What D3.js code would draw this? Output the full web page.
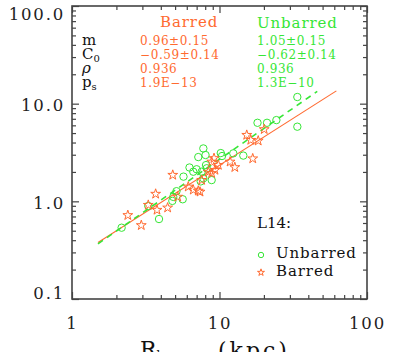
<!DOCTYPE html>
<html>
<head>
<meta charset="utf-8">
<script src="https://cdn.jsdelivr.net/npm/d3@7"></script>
<style>
  body { margin: 0; background: #fff; }
  text { font-family: "DejaVu Serif", serif; }
</style>
</head>
<body>
<script>
// values
var unbarredX = [2.17, 3.29, 3.89, 4.79, 4.86, 5.63, 5.11, 5.70, 6.26, 7.0, 6.64, 7.57, 7.18, 7.77, 8.04,
                 8.10, 7.77, 8.85, 10.2, 10.4, 12.4, 14.5, 18.1, 21.0, 24.3, 33.7, 33.7, 7.46, 8.19];
var unbarredY = [0.537, 0.896, 0.659, 1.01, 1.11, 1.05, 1.27, 1.79, 2.22, 2.13, 2.01, 2.01, 2.84, 3.48, 2.98,
                 2.35, 1.72, 1.65, 3.12, 2.91, 3.10, 2.94, 6.37, 6.37, 6.79, 11.7, 5.81, 1.60, 2.18];

var barredX = [2.39, 2.95, 3.29, 3.69, 3.77, 4.45, 4.82, 5.21, 6.14, 6.64, 7.18, 7.38, 7.57, 8.40,
               8.85, 9.32, 9.18, 9.82, 11.8, 12.7, 15.3, 16.3, 18.3, 20.1, 16.8, 8.85];
var barredY = [0.72, 0.568, 0.916, 1.19, 0.815, 0.86, 1.86, 1.11, 1.41, 1.31, 1.28, 1.25, 1.65, 2.0,
               2.54, 2.09, 2.76, 2.35, 2.54, 2.23, 4.77, 4.24, 4.17, 5.46, 2.74, 1.94];

// fits: log y = c0 + m log x
var barredFit = {m: 0.96, c0: -0.59, from: 1.5, to: 62};
var unbarredFit = {m: 1.05, c0: -0.62, from: 1.5, to: 46};

var statNames = ["m", "C", "ρ", "p"];
var statSubs = ["", "0", "", "s"];
var barredStats = ["0.96±0.15", "−0.59±0.14", "0.936", "1.9E−13"];
var unbarredStats = ["1.05±0.15", "−0.62±0.14", "0.936", "1.3E−10"];

var xMajor = [1, 10, 100];
var xMinor = [2, 3, 4, 5, 6, 7, 8, 9, 20, 30, 40, 50, 60, 70, 80, 90];
var yMajor = [0.1, 1, 10, 100];
var yMinor = [0.2, 0.3, 0.4, 0.5, 0.6, 0.7, 0.8, 0.9, 2, 3, 4, 5, 6, 7, 8, 9, 20, 30, 40, 50, 60, 70, 80, 90];
var yLabels = ["0.1", "1.0", "10.0", "100.0"];

var orange = "#ff6a30", green = "#36e636", axisCol = "#444";

var width = 399, height = 352;
var L = 72, R = 367, T = 6, B = 299;

var svg = d3.select("body").append("svg")
    .attr("width", width)
    .attr("height", height);

var x = d3.scaleLog().domain([1, 100]).range([L, R]);
var y = d3.scaleLog().domain([0.1, 100]).range([B, T]);

function tickAxis(fn, scale, vals, size, tr) {
  var g = svg.append("g").attr("transform", tr)
    .call(fn(scale).tickValues(vals).tickSize(size).tickFormat(""));
  g.select(".domain").remove();
  g.selectAll("line").attr("stroke", axisCol).attr("stroke-width", 1.2);
  return g;
}

// ticks pointing inward on all four sides
tickAxis(d3.axisBottom, x, xMinor, -4, "translate(0," + B + ")");
tickAxis(d3.axisTop, x, xMinor, -4, "translate(0," + T + ")");
tickAxis(d3.axisTop, x, xMajor, -7, "translate(0," + T + ")");
tickAxis(d3.axisLeft, y, yMinor, -4, "translate(" + L + ",0)");
tickAxis(d3.axisRight, y, yMinor, -4, "translate(" + R + ",0)");
tickAxis(d3.axisRight, y, yMajor, -7, "translate(" + R + ",0)");

var xa = svg.append("g").attr("transform", "translate(0," + B + ")")
  .call(d3.axisBottom(x).tickValues(xMajor).tickSize(-7).tickPadding(18).tickFormat(d3.format("d")));
xa.select(".domain").remove();
xa.selectAll("line").attr("stroke", axisCol).attr("stroke-width", 1.2);
xa.selectAll("text").attr("font-family", "DejaVu Serif").attr("font-size", 16.5)
  .attr("letter-spacing", 1.8).attr("fill", "#222");

var ya = svg.append("g").attr("transform", "translate(" + L + ",0)")
  .call(d3.axisLeft(y).tickValues(yMajor).tickSize(-7).tickPadding(7).tickFormat(function(d, i) { return yLabels[i]; }));
ya.select(".domain").remove();
ya.selectAll("line").attr("stroke", axisCol).attr("stroke-width", 1.2);
ya.selectAll("text").attr("font-family", "DejaVu Serif").attr("font-size", 16.5)
  .attr("letter-spacing", 1.8).attr("fill", "#222")
  .attr("y", function(d) { var c = Math.max(14, Math.min(293, y(d) + 2)); return c - y(d); });

svg.append("rect")
  .attr("x", L).attr("y", T).attr("width", R - L).attr("height", B - T)
  .attr("fill", "none").attr("stroke", axisCol).attr("stroke-width", 1.6);

// fit lines
function fitLine(f) {
  var pts = [f.from, f.to].map(function(v) { return [v, Math.pow(10, f.c0 + f.m * Math.log10(v))]; });
  return d3.line().x(function(d) { return x(d[0]); }).y(function(d) { return y(d[1]); })(pts);
}
svg.append("path").attr("d", fitLine(barredFit))
  .attr("fill", "none").attr("stroke", orange).attr("stroke-width", 1.1);
svg.append("path").attr("d", fitLine(unbarredFit))
  .attr("fill", "none").attr("stroke", green).attr("stroke-width", 1.6)
  .attr("stroke-dasharray", "6,5");

// points
var star = d3.symbol().type(d3.symbolStar);

svg.append("g").selectAll("circle").data(d3.range(unbarredX.length))
  .enter().append("circle")
  .attr("cx", function(i) { return x(unbarredX[i]); })
  .attr("cy", function(i) { return y(unbarredY[i]); })
  .attr("r", 3.7)
  .attr("fill", "none").attr("stroke", green).attr("stroke-width", 1);

svg.append("g").selectAll("path").data(d3.range(barredX.length))
  .enter().append("path")
  .attr("d", star.size(30)())
  .attr("transform", function(i) { return "translate(" + x(barredX[i]) + "," + y(barredY[i]) + ")"; })
  .attr("fill", "none").attr("stroke", orange).attr("stroke-width", 1);

// stats table
var rows = [45, 59, 73, 87];
statNames.forEach(function(n, i) {
  var t = svg.append("text").attr("x", 82).attr("y", rows[i]).attr("font-size", 15)
    .attr("fill", "#111").text(n);
  if (i == 2) t.attr("font-style", "italic");
  if (statSubs[i]) t.append("tspan").attr("font-size", 10).attr("dy", 3).text(statSubs[i]);
});
svg.append("text").attr("x", 160).attr("y", 27).attr("font-size", 15).attr("letter-spacing", 0.9)
  .attr("fill", orange).text("Barred");
svg.append("text").attr("x", 257).attr("y", 28).attr("font-size", 15).attr("letter-spacing", 0.9)
  .attr("fill", green).text("Unbarred");
barredStats.forEach(function(s, i) {
  svg.append("text").attr("x", 140).attr("y", rows[i]).attr("font-size", 12).attr("letter-spacing", 0.6)
    .attr("fill", orange).text(s);
});
unbarredStats.forEach(function(s, i) {
  svg.append("text").attr("x", 257).attr("y", rows[i]).attr("font-size", 12).attr("letter-spacing", 0.6)
    .attr("fill", green).text(s);
});

// legend
svg.append("text").attr("x", 257).attr("y", 228).attr("font-size", 15).attr("fill", "#111").text("L14:");
svg.append("circle").attr("cx", 261).attr("cy", 255).attr("r", 2.7)
  .attr("fill", "none").attr("stroke", green).attr("stroke-width", 1);
svg.append("text").attr("x", 276).attr("y", 258).attr("font-size", 15).attr("letter-spacing", 0.9)
  .attr("fill", "#111").text("Unbarred");
svg.append("path").attr("d", star.size(15)()).attr("transform", "translate(261,272.5)")
  .attr("fill", "none").attr("stroke", orange).attr("stroke-width", 1);
svg.append("text").attr("x", 276).attr("y", 276).attr("font-size", 15).attr("letter-spacing", 0.9)
  .attr("fill", "#111").text("Barred");

// x title (cut off at the bottom as in the figure)
var xt = svg.append("text").attr("x", 140).attr("y", 357).attr("font-size", 22).attr("fill", "#111").text("R");
xt.append("tspan").attr("font-size", 12).attr("dy", 3).attr("letter-spacing", 1).text("bar,max");
xt.append("tspan").attr("x", 218).attr("dy", -2).attr("letter-spacing", 3).text("(kpc)");
</script>
</body>
</html>
